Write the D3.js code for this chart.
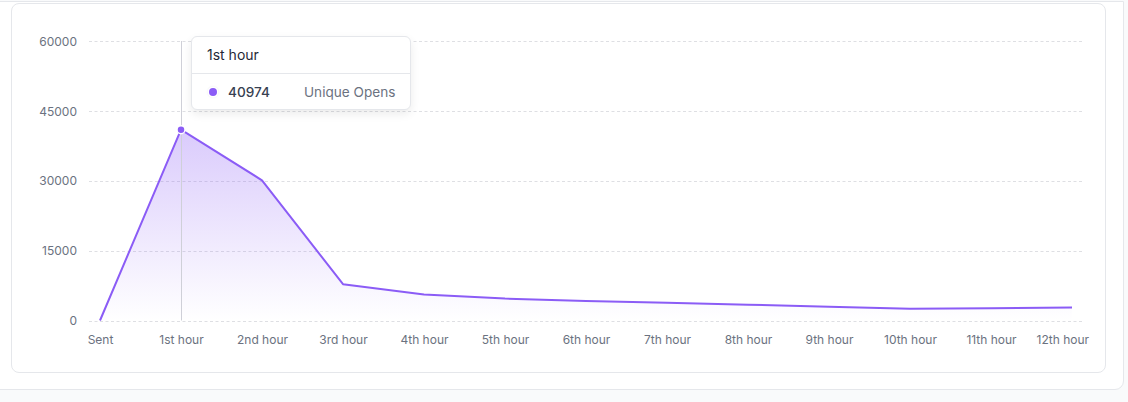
<!DOCTYPE html>
<html>
<head>
<meta charset="utf-8">
<script src="https://cdn.jsdelivr.net/npm/d3@7"></script>
<style>
  html, body { margin: 0; padding: 0; }
  body { width: 1128px; height: 402px; background: #f9fafb; position: relative; overflow: hidden; font-family: Inter, "Noto Sans", sans-serif; }
  #outer { position: absolute; left: -20px; top: 1px; width: 1142px; height: 387px; background: #fff; border: 1px solid #e5e7eb; border-radius: 0 0 9px 0; }
  #inner { position: absolute; left: 11px; top: 3px; width: 1093px; height: 368px; background: #fff; border: 1px solid #e5e7eb; border-radius: 8px; }
  svg { position: absolute; left: 0; top: 0; }
  #tip { position: absolute; left: 191px; top: 36px; width: 218px; height: 72px; background: #fff; border: 1px solid #e5e7eb; border-radius: 6px; box-shadow: 0 4px 10px rgba(0,0,0,0.08); color: #374151; }
  #tip .hd { height: 36px; line-height: 36px; padding-left: 15px; border-bottom: 1px solid #e5e7eb; color: #1f2937; font-size: 14px; }
  #tip .row { position: relative; height: 36px; font-size: 13.6px; }
  #tip .dot { position: absolute; left: 17px; top: 14px; width: 8px; height: 8px; border-radius: 50%; background: #8b5cf6; box-shadow: 0 0 0 1.5px #fff, 0 0 2px 1.5px rgba(0,0,0,0.08); }
  #tip .val { position: absolute; left: 36px; top: 0; line-height: 36px; font-weight: 500; color: #374151; }
  #tip .nm { position: absolute; left: 112px; top: 0; line-height: 36px; color: #6b7280; }
</style>
</head>
<body>
<div id="outer"></div>
<div id="inner"></div>
<svg id="chart" width="1128" height="402"></svg>
<script>
const categories = ["Sent","1st hour","2nd hour","3rd hour","4th hour","5th hour","6th hour","7th hour","8th hour","9th hour","10th hour","11th hour","12th hour"];
const uniqueOpens = [0, 40974, 30100, 7800, 5600, 4700, 4200, 3800, 3400, 2950, 2500, 2650, 2800];
const yTicks = [0, 15000, 30000, 45000, 60000];
const seriesName = "Unique Opens";
const activeIndex = 1;

const svg = d3.select("#chart");
const x = d3.scalePoint().domain(categories).range([100, 1072]);
const y = d3.scaleLinear().domain([0, 60000]).range([320.5, 41]);

const defs = svg.append("defs");
const grad = defs.append("linearGradient").attr("id", "fillGrad")
  .attr("x1", 0).attr("y1", 0).attr("x2", 0).attr("y2", 1);
grad.append("stop").attr("offset", "0%").attr("stop-color", "#8b5cf6").attr("stop-opacity", 0.32);
grad.append("stop").attr("offset", "100%").attr("stop-color", "#8b5cf6").attr("stop-opacity", 0.0);

// y axis labels
const yAxis = d3.axisLeft(y).tickValues(yTicks).tickSize(0).tickPadding(0).tickFormat(d3.format("d"));
const yg = svg.append("g").attr("transform", "translate(77,0)").call(yAxis);
yg.select(".domain").remove();
yg.selectAll("text").attr("font-family", "Inter, sans-serif").attr("font-size", 12).attr("fill", "#6b7280").attr("dy", "0.35em");

// gridlines
svg.append("g").selectAll("line").data(yTicks).join("line")
  .attr("x1", 89).attr("x2", 1083)
  .attr("y1", d => Math.round(y(d)) + 0.5).attr("y2", d => Math.round(y(d)) + 0.5)
  .attr("stroke", "#dedfe3").attr("stroke-width", 1).attr("stroke-dasharray", "3,2.5");

// x axis
const xAxis = d3.axisBottom(x).tickSize(0).tickPadding(0);
const xg = svg.append("g").attr("transform", "translate(0,340)").call(xAxis);
xg.select(".domain").remove();
xg.selectAll("text").attr("font-family", "Inter, sans-serif").attr("font-size", 12).attr("fill", "#6b7280").attr("dy", "0.35em");
// keep last label within chart area
xg.selectAll(".tick").each(function(d) {
  const t = d3.select(this).select("text");
  const bb = t.node().getBBox();
  const cx = x(d);
  const right = cx + bb.x + bb.width;
  if (right > 1089) t.attr("x", 1089 - right);
});

// area
const area = d3.area().x((d, i) => x(categories[i])).y0(y(0)).y1(d => y(d));
svg.append("path").datum(uniqueOpens).attr("d", area).attr("fill", "url(#fillGrad)");

// crosshair
svg.append("line")
  .attr("x1", x(categories[activeIndex]) + 0.5).attr("x2", x(categories[activeIndex]) + 0.5)
  .attr("y1", y(60000)).attr("y2", y(0))
  .attr("stroke", "#cfd0d8").attr("stroke-width", 1);

// line
const line = d3.line().x((d, i) => x(categories[i])).y(d => y(d));
svg.append("path").datum(uniqueOpens).attr("d", line)
  .attr("fill", "none").attr("stroke", "#8b5cf6").attr("stroke-width", 2).attr("stroke-linejoin", "round");

// active marker
svg.append("circle")
  .attr("cx", x(categories[activeIndex])).attr("cy", y(uniqueOpens[activeIndex]))
  .attr("r", 4).attr("fill", "#8b5cf6").attr("stroke", "#fff").attr("stroke-width", 1.5);

// tooltip
const tip = d3.select("body").append("div").attr("id", "tip");
tip.append("div").attr("class", "hd").text(categories[activeIndex]);
const row = tip.append("div").attr("class", "row");
row.append("span").attr("class", "dot");
row.append("span").attr("class", "val").text(uniqueOpens[activeIndex]);
row.append("span").attr("class", "nm").text(seriesName);
</script>
</body>
</html>
